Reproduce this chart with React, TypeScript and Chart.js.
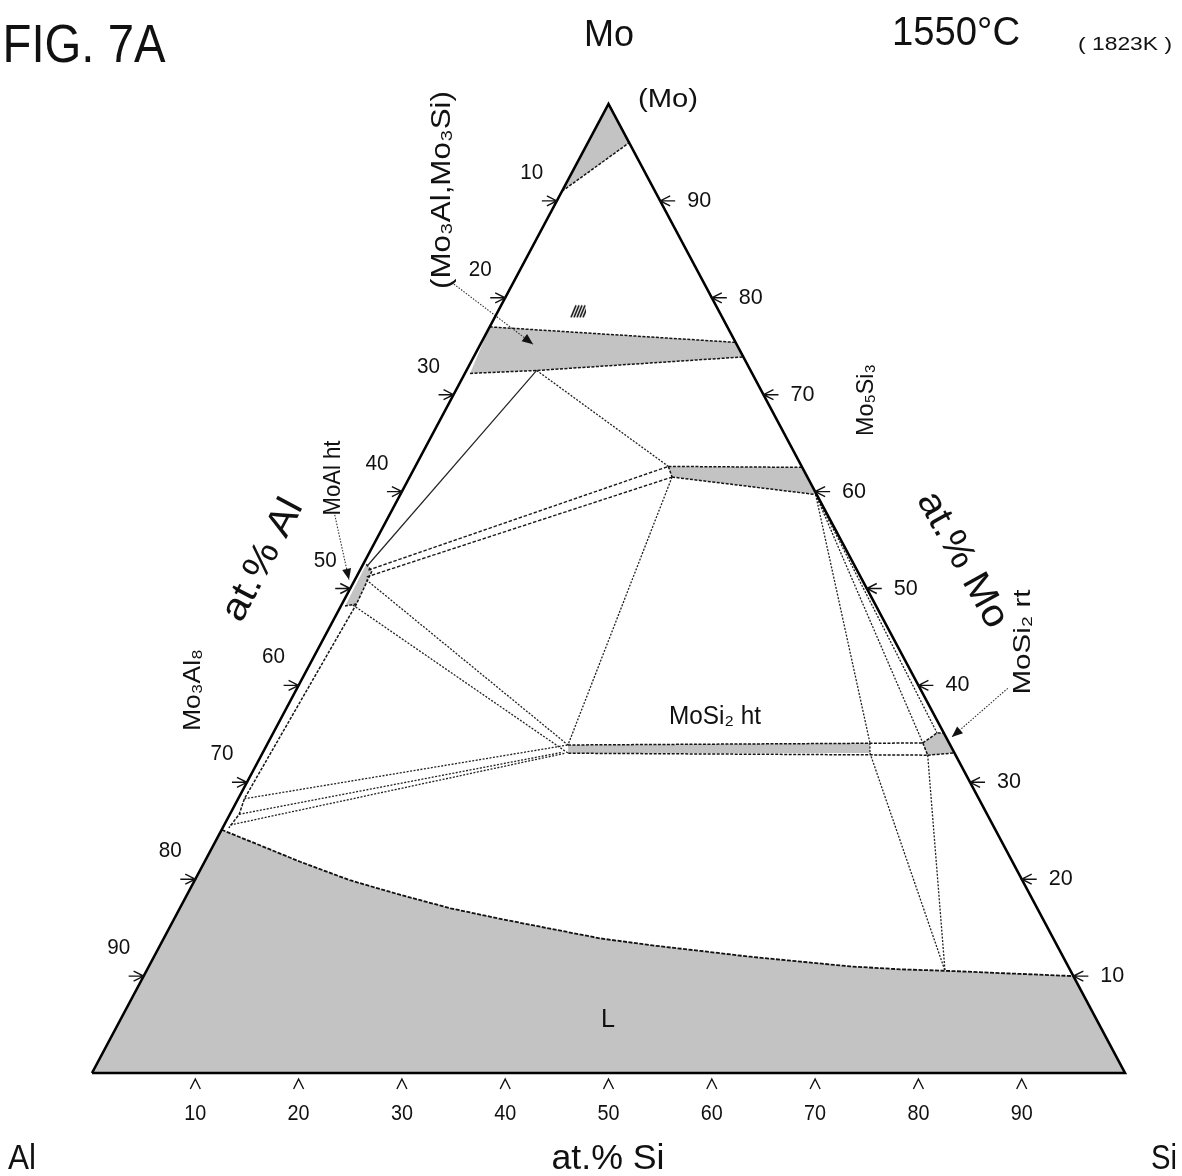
import React, { useEffect, useRef } from "react";
import { Chart, registerables } from "chart.js";

Chart.register(...registerables);

// Ternary compositions: [at.% Si, at.% Mo]  (at.% Al = 100 - Si - Mo)
type TP = [number, number];

// ---- triangle frame ----
const frame: TP[] = [[0, 0], [100, 0], [0, 100], [0, 0]];

// ---- shaded single-phase fields ----
const moSolid: TP[] = [[0, 100], [4, 96], [0, 91]];
const mo3Band: TP[] = [[0, 77], [24.6, 75.4], [26.1, 73.9], [6.8, 72.5], [0.5, 72.2]];
const mo5si3: TP[] = [[24.5, 62.6], [37.5, 62.5], [40.2, 59.7], [25.4, 61.5]];
const moAlHt: TP[] = [[0.3, 52.5], [1.2, 51.8], [1.4, 48.4], [0.4, 48.2]];
const mosi2HtShaded: TP[] = [[29.15, 33.85], [58.3, 34.06], [58.8, 33.02], [29.6, 33.0]];
const mosi2Rt: TP[] = [[63.4, 34.06], [64.26, 35.09], [64.9, 35.09], [66.84, 33.02], [64.5, 32.8]];
const liquidus: TP[] = [
  [0, 25.1], [4.5, 23.5], [9.25, 21.8], [15.0, 19.9], [20.6, 18.4], [26.2, 17.0],
  [31.6, 15.9], [36.9, 14.9], [42.2, 13.9], [47.4, 13.2], [52.6, 12.6], [57.7, 12.0],
  [62.8, 11.5], [67.9, 11.0], [72.9, 10.7], [77.3, 10.55], [90, 10],
];
const liquidField: TP[] = [...liquidus, [100, 0], [0, 0]];

// ---- phase boundaries (dashed) ----
const boundaries: TP[][] = [
  [[0, 91], [4, 96]],
  [[0, 77], [24.6, 75.4]],
  [[0.5, 72.2], [6.8, 72.5], [26.1, 73.9]],
  [[24.5, 62.6], [37.5, 62.5]],
  [[25.4, 61.5], [40.2, 59.7]],
  [[24.5, 62.6], [25.4, 61.5]],
  [[0.3, 52.5], [1.2, 51.8], [1.4, 48.4], [0.4, 48.2]],
  [[29.15, 33.85], [63.4, 34.06]],
  [[29.6, 33.0], [64.5, 32.8]],
  [[63.4, 34.06], [64.26, 35.09], [64.9, 35.09]],
  [[64.5, 32.8], [66.84, 33.02]],
  [[63.4, 34.06], [64.5, 32.8]],
  [[1.4, 48.4], [0.6, 28.3], [0.9, 26.7], [0.6, 25.3]],
];

// ---- tie lines (dotted) ----
const tieLines: TP[][] = [
  [[6.8, 72.5], [24.5, 62.6]],
  [[1.1, 50.9], [29.15, 33.85]],
  [[1.1, 48.3], [29.6, 33.0]],
  [[25.4, 61.5], [29.15, 33.85]],
  [[0.6, 28.3], [29.15, 33.85]],
  [[0.9, 26.7], [29.0, 33.1]],
  [[0.6, 25.6], [29.3, 33.0]],
  [[40.2, 59.7], [58.28, 34.06]],
  [[40.2, 59.7], [63.4, 34.06]],
  [[40.2, 59.7], [64.26, 35.09]],
  [[58.8, 33.02], [77.3, 10.55]],
  [[64.5, 32.8], [77.3, 10.55]],
  [[58.28, 34.06], [58.8, 33.02]],
];
const tieDashed: TP[][] = [
  [[0.8, 51.9], [24.5, 62.6]],
  [[1.0, 51.2], [25.4, 61.5]],
];
const tieSolid: TP[][] = [[[0.5, 52.4], [6.8, 72.5]]];

// ---- leaders to labels ----
const leaders: TP[][] = [
  [[-6, 81.6], [5.1, 75.2]],
  [[-5.3, 57.6], [-0.57, 50.9]],
  [[68.8, 39.7], [65.9, 34.67]],
];
const hatchMark: TP[] = [[7.75, 78.6]];

// ---- axis ticks ----
const tickValues = [10, 20, 30, 40, 50, 60, 70, 80, 90];
const tickLabels = ["10", "20", "30", "40", "50", "60", "70", "80", "90"];

const toXY = (pts: TP[]) => pts.map(([si, mo]) => ({ x: si + mo / 2, y: mo }));
const closed = (pts: TP[]) => [...pts, pts[0]];

const FONT = '"Liberation Sans", Arial, "DejaVu Sans", sans-serif';
const SHADE = "#c3c3c3";

function drawText(
  ctx: CanvasRenderingContext2D,
  text: string,
  x: number,
  y: number,
  size: number,
  rot = 0,
  width?: number,
  align: CanvasTextAlign = "center"
) {
  ctx.save();
  ctx.translate(x, y);
  if (rot) ctx.rotate((rot * Math.PI) / 180);
  ctx.font = `${size}px ${FONT}`;
  const w = ctx.measureText(text).width;
  if (width && w > 0) ctx.scale(width / w, 1);
  ctx.fillStyle = "#111";
  ctx.textAlign = align;
  ctx.textBaseline = "middle";
  ctx.fillText(text, 0, 0);
  ctx.restore();
}

const ternPlugin = {
  id: "ternaryDecor",
  afterDatasetsDraw(chart: any) {
    const { ctx } = chart;
    const sx = chart.scales.x;
    const sy = chart.scales.y;
    const P = (si: number, mo: number): [number, number] => [
      sx.getPixelForValue(si + mo / 2),
      sy.getPixelForValue(mo),
    ];
    ctx.save();
    ctx.strokeStyle = "#111";
    ctx.lineWidth = 1.4;
    ctx.setLineDash([]);

    const glyph = (px: number, py: number, dx: number, dy: number, gap: number) => {
      const qx = -dy, qy = dx;
      const ax = px + dx * gap, ay = py + dy * gap;
      ctx.beginPath();
      ctx.moveTo(ax + dx * 10 + qx * 5, ay + dy * 10 + qy * 5);
      ctx.lineTo(ax, ay);
      ctx.lineTo(ax + dx * 10 - qx * 5, ay + dy * 10 - qy * 5);
      if (gap === 0) {
        ctx.moveTo(px, py);
        ctx.lineTo(px + dx * 15, py + dy * 15);
      }
      ctx.stroke();
    };

    tickValues.forEach((v, i) => {
      // bottom (Si)
      const [bx, by] = P(v, 0);
      glyph(bx, by, 0, 1, 6);
      drawText(ctx, tickLabels[i], bx, by + 41, 22, 0, 22);
      // left (Al): Al = v -> Mo = 100 - v, Si = 0
      const [lx, ly] = P(0, 100 - v);
      glyph(lx, ly, -1, 0, 0);
      drawText(ctx, tickLabels[i], lx - 25, ly - 28, 22, 0, 23);
      // right (Mo): Mo = v, Si = 100 - v
      const [rx, ry] = P(100 - v, v);
      glyph(rx, ry, 1, 0, 0);
      drawText(ctx, tickLabels[i], rx + 27, ry, 22, 0, 24, "left");
    });

    // arrow heads of leaders
    ctx.fillStyle = "#111";
    leaders.forEach((ln) => {
      const [x0, y0] = P(ln[0][0], ln[0][1]);
      const [x1, y1] = P(ln[1][0], ln[1][1]);
      const a = Math.atan2(y1 - y0, x1 - x0);
      ctx.beginPath();
      ctx.moveTo(x1, y1);
      ctx.lineTo(x1 - 11 * Math.cos(a) + 4.5 * Math.sin(a), y1 - 11 * Math.sin(a) - 4.5 * Math.cos(a));
      ctx.lineTo(x1 - 11 * Math.cos(a) - 4.5 * Math.sin(a), y1 - 11 * Math.sin(a) + 4.5 * Math.cos(a));
      ctx.closePath();
      ctx.fill();
    });

    // labels
    drawText(ctx, "FIG. 7A", 84, 47, 54, 0, 163);
    drawText(ctx, "Mo", 609, 36, 37, 0, 50);
    drawText(ctx, "1550°C", 956, 34, 40, 0, 128);
    drawText(ctx, "( 1823K )", 1125, 45, 18, 0, 94);
    drawText(ctx, "(Mo)", 668, 100, 25, 0, 60);
    drawText(ctx, "(Mo₃Al,Mo₃Si)", 443, 190, 27, -90, 198);
    drawText(ctx, "Mo₅Si₃", 866, 400, 24, -90, 72);
    drawText(ctx, "MoAl ht", 333, 478, 24, -90, 75);
    drawText(ctx, "at.% Al", 263, 560, 38, -62, 133);
    drawText(ctx, "at.% Mo", 962, 560, 38, 61, 150);
    drawText(ctx, "MoSi₂ rt", 1023, 642, 24, -90, 105);
    drawText(ctx, "MoSi₂ ht", 715, 717, 25, 0, 92);
    drawText(ctx, "Mo₃Al₈", 193, 690, 24, -90, 82);
    drawText(ctx, "L", 608, 1020, 25, 0, 14);
    drawText(ctx, "at.% Si", 608, 1159, 35, 0, 113);
    drawText(ctx, "Al", 22, 1159, 35, 0, 28);
    drawText(ctx, "Si", 1164, 1159, 35, 0, 26);
    ctx.restore();
  },
};

export default function App() {
  const ref = useRef<HTMLCanvasElement | null>(null);

  useEffect(() => {
    const canvas = ref.current;
    if (!canvas) return;

    const hc = document.createElement("canvas");
    hc.width = 16;
    hc.height = 14;
    const hctx = hc.getContext("2d")!;
    hctx.strokeStyle = "#111";
    hctx.lineWidth = 1.6;
    for (let i = 0; i < 5; i++) {
      hctx.beginPath();
      hctx.moveTo(1 + i * 3, 13);
      hctx.lineTo(6 + i * 3, 1);
      hctx.stroke();
    }

    const field = (pts: TP[]) => ({
      data: toXY(closed(pts)),
      showLine: true,
      fill: "shape",
      backgroundColor: SHADE,
      borderColor: "rgba(0,0,0,0)",
      borderWidth: 0,
      pointRadius: 0,
      tension: 0,
      order: 5,
      clip: false,
    });
    const line = (pts: TP[], dash: number[], width: number, color: string, order = 3) => ({
      data: toXY(pts),
      showLine: true,
      fill: false,
      borderColor: color,
      borderWidth: width,
      borderDash: dash,
      pointRadius: 0,
      tension: 0,
      order,
      clip: false,
    });

    const datasets: any[] = [
      field(liquidField),
      field(moSolid),
      field(mo3Band),
      field(mo5si3),
      field(moAlHt),
      field(mosi2HtShaded),
      field(mosi2Rt),
      line(liquidus, [4, 1.5], 1.8, "#111", 3),
      ...boundaries.map((b) => line(b, [3, 1.5], 1.5, "#151515", 3)),
      ...tieLines.map((t) => line(t, [2, 1.5], 1.3, "#222", 4)),
      ...tieDashed.map((t) => line(t, [3.5, 1.8], 1.4, "#1a1a1a", 4)),
      ...tieSolid.map((t) => line(t, [], 1.2, "#222", 4)),
      ...leaders.map((t) => line(t, [1.5, 1.5], 1.1, "#333", 4)),
      {
        data: toXY(hatchMark),
        showLine: false,
        pointStyle: hc,
        pointRadius: 8,
        order: 2,
        clip: false,
      },
      line(frame, [], 2.6, "#000", 1),
    ];

    const chart = new Chart(canvas, {
      type: "scatter",
      data: { datasets },
      options: {
        animation: false,
        responsive: false,
        devicePixelRatio: 1,
        events: [],
        layout: { padding: { left: 92, right: 57, top: 104, bottom: 103 } },
        scales: {
          x: { type: "linear", min: 0, max: 100, display: false },
          y: { type: "linear", min: 0, max: 100, display: false },
        },
        plugins: {
          legend: { display: false },
          tooltip: { enabled: false },
        },
        elements: { line: { borderJoinStyle: "miter" } },
      } as any,
      plugins: [ternPlugin],
    });
    return () => chart.destroy();
  }, []);

  return (
    <div style={{ position: "absolute", left: 0, top: 0, width: 1182, height: 1176, background: "#fff" }}>
      <canvas ref={ref} width={1182} height={1176} style={{ display: "block" }} />
    </div>
  );
}
